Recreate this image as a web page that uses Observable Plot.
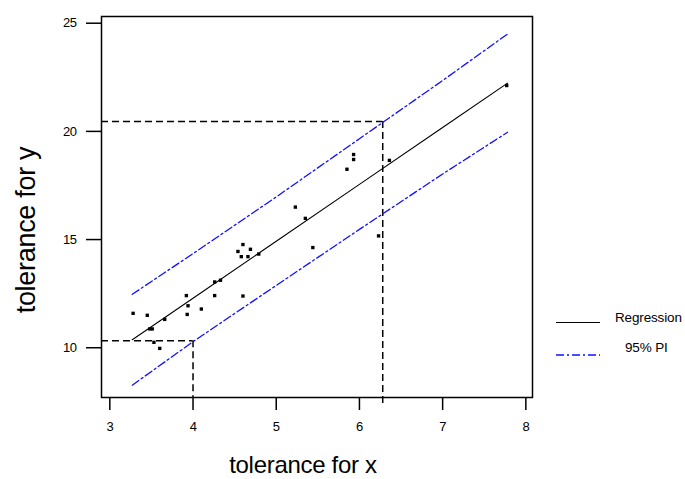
<!DOCTYPE html>
<html><head><meta charset="utf-8">
<script src="https://cdn.jsdelivr.net/npm/d3@7"></script>
<script src="https://cdn.jsdelivr.net/npm/@observablehq/plot@0.6"></script>
<style>body{margin:0;background:#fff} #chart{position:relative;width:685px;height:479px}</style>
</head><body><div id="chart"></div>
<script>
// Observations
const pointX = [3.28,3.45,3.66,3.48,3.51,3.53,3.60,3.92,3.94,3.93,4.10,4.26,4.26,4.33,4.60,4.54,4.69,4.58,4.66,4.79,4.60,5.44,5.23,5.35,5.93,5.93,5.85,6.36,6.23,7.77];
const pointY = [11.59,11.50,11.31,10.87,10.87,10.25,9.97,12.41,11.94,11.54,11.79,12.41,13.04,13.12,14.77,14.45,14.55,14.21,14.21,14.33,12.39,14.63,16.50,15.98,18.93,18.70,18.25,18.66,15.17,22.12];
// Fitted regression line and 95% prediction interval
const fitX = [3.27, 4, 5, 6, 7, 7.78];
const fitY = [10.37, 12.29, 14.92, 17.55, 20.18, 22.23];
const piUpper = [12.47, 14.35, 16.97, 19.66, 22.35, 24.5];
const piLower = [8.27, 10.28, 12.88, 15.47, 18.03, 19.96];
// Reference (tolerance) lines
const refX = [4.0, 6.28];
const refY = [10.32, 20.46];
const refBottom = [7.70, 7.30];
// Ticks
const xTicks = [3, 4, 5, 6, 7, 8];
const yTicks = [10, 15, 20, 25];

const xDomain = [2.90, 8.08];
const yDomain = [7.70, 25.31];
const points = pointX.map((x, i) => ({x, y: pointY[i]}));
const fit = fitX.map((x, i) => ({x, y: fitY[i], hi: piUpper[i], lo: piLower[i]}));
const refs = refX.map((x, i) => ({x, y: refY[i], b: refBottom[i]}));
const blue = "#1010ff";
const dashDot = "8,3,2,3";

const plot = Plot.plot({
  width: 685, height: 479,
  marginLeft: 101, marginRight: 153, marginTop: 16, marginBottom: 82,
  style: {fontFamily: "'Liberation Sans', Arial, sans-serif", fontSize: "13px", background: "#fff", color: "#000", letterSpacing: "-0.5px"},
  x: {domain: xDomain},
  y: {domain: yDomain},
  marks: [
    Plot.axisX({ticks: xTicks, tickFormat: d3.format("d"), tickSize: 13, tickPadding: 11, strokeWidth: 1.5, label: null}),
    Plot.axisY({ticks: yTicks, tickFormat: d3.format("d"), tickSize: 15, tickPadding: 10, strokeWidth: 1.5, label: null}),
    Plot.ruleY(refs, {y: "y", x1: xDomain[0], x2: "x", stroke: "#000", strokeWidth: 1.5, strokeDasharray: "7,4"}),
    Plot.ruleX(refs, {x: "x", y1: "y", y2: "b", stroke: "#000", strokeWidth: 1.5, strokeDasharray: "7,4", clip: false}),
    Plot.line(fit, {x: "x", y: "hi", stroke: blue, strokeWidth: 1.3, strokeDasharray: dashDot}),
    Plot.line(fit, {x: "x", y: "lo", stroke: blue, strokeWidth: 1.3, strokeDasharray: dashDot}),
    Plot.line(fit, {x: "x", y: "y", stroke: "#000", strokeWidth: 1.1}),
    Plot.dot(points, {x: "x", y: "y", symbol: "square", r: 1.9, fill: "#000", stroke: "none"}),
    Plot.frame({stroke: "#000", strokeWidth: 1.5})
  ]
});
document.getElementById("chart").appendChild(plot);

const svg = d3.select(plot);
const font = "'Liberation Sans', Arial, sans-serif";
svg.append("text").attr("x", 303).attr("y", 473).attr("text-anchor", "middle")
  .style("font-family", font).style("font-size", "24px").style("letter-spacing", "-0.3px")
  .text("tolerance for x");
svg.append("text").attr("transform", "translate(35,230) rotate(-90)").attr("text-anchor", "middle")
  .style("font-family", font).style("font-size", "27px").style("letter-spacing", "-0.3px")
  .text("tolerance for y");

const lg = svg.append("g").attr("text-anchor", "start").style("font-family", font).style("font-size", "13.5px").style("letter-spacing", "-0.15px");
lg.append("line").attr("x1", 556).attr("x2", 600).attr("y1", 322.5).attr("y2", 322.5).attr("stroke", "#000").attr("stroke-width", 1.2);
lg.append("text").attr("x", 615).attr("y", 317).attr("dy", "0.35em").text("Regression");
lg.append("line").attr("x1", 556).attr("x2", 600).attr("y1", 355).attr("y2", 355).attr("stroke", blue).attr("stroke-width", 1.3).attr("stroke-dasharray", dashDot);
lg.append("text").attr("x", 625).attr("y", 347).attr("dy", "0.35em").text("95% PI");
</script>
</body></html>
